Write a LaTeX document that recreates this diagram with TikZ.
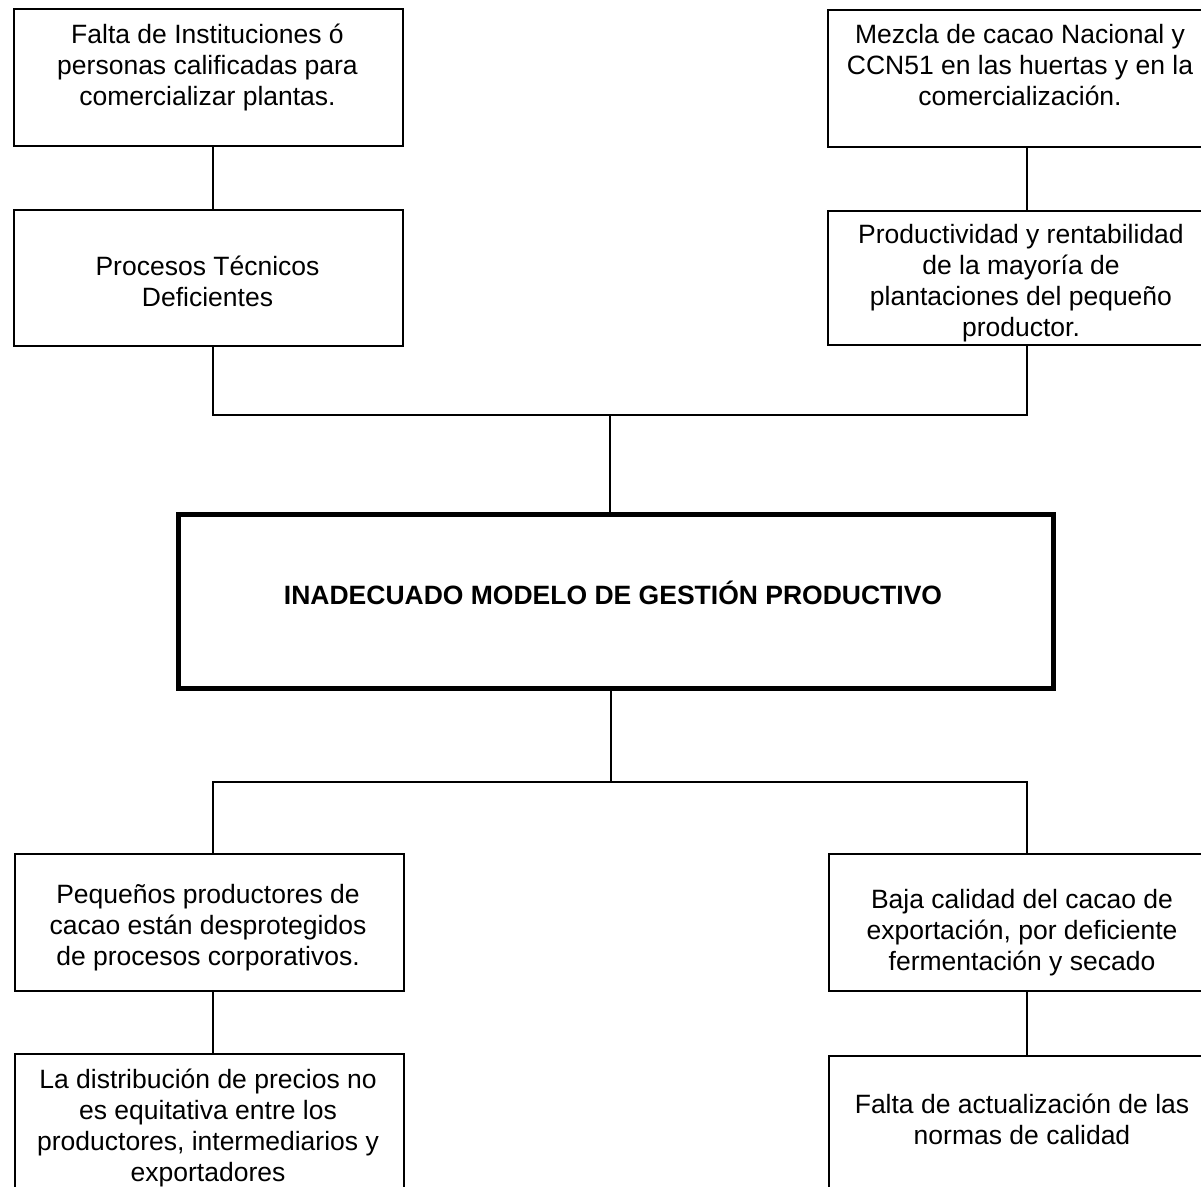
\documentclass[tikz,border=0pt]{standalone}
\usepackage{fontspec}
\setmainfont{Liberation Sans}
\begin{document}
\begin{tikzpicture}[x=1pt,y=-1pt,
  box/.style={draw=black, line width=1.5pt, rectangle, inner sep=0pt, anchor=north west},
  mainbox/.style={draw=black, line width=5pt, rectangle, inner sep=0pt, anchor=north west},
  txt/.style={align=center, inner sep=0pt, anchor=north, font=\fontsize{26.5}{31}\selectfont},
  conn/.style={draw=black, line width=1.5pt}]
\useasboundingbox (0,0) rectangle (1201,1186);
\clip (0,0) rectangle (1201,1186);
% boxes
\node[box, minimum width=389pt, minimum height=137pt] (L1) at (13,8) {};
\node[box, minimum width=399pt, minimum height=137pt] (R1) at (827,9) {};
\node[box, minimum width=389pt, minimum height=136pt] (L2) at (13,209) {};
\node[box, minimum width=399pt, minimum height=134pt] (R2) at (827,210) {};
\node[mainbox, minimum width=875pt, minimum height=174pt] (C) at (176,512) {};
\node[box, minimum width=389pt, minimum height=137pt] (L3) at (14,853) {};
\node[box, minimum width=398pt, minimum height=137pt] (R3) at (828,853) {};
\node[box, minimum width=389pt, minimum height=200pt] (L4) at (14,1053) {};
\node[box, minimum width=398pt, minimum height=200pt] (R4) at (828,1055) {};
% texts
\node[txt] (tL1) at (207.5,21.3) {\strut Falta de Instituciones ó\\personas calificadas para\\comercializar plantas.};
\node[txt] (tR1) at (1020,21.3) {\strut Mezcla de cacao Nacional y\\CCN51 en las huertas y en la\\comercialización.};
\node[txt] (tL2) at (207.5,253.3) {\strut Procesos Técnicos\\Deficientes};
\begin{scope}
\clip (827,210) rectangle (1226,343.5);
\node[txt] (tR2) at (1021,221.3) {\strut Productividad y rentabilidad\\de la mayoría de\\plantaciones del pequeño\\productor.};
\end{scope}
\node[font=\fontsize{26.5}{31}\selectfont\bfseries, inner sep=0pt, anchor=base] (tC) at (613,604) {INADECUADO MODELO DE GESTIÓN PRODUCTIVO};
\node[txt] (tL3) at (208,881.3) {\strut Pequeños productores de\\cacao están desprotegidos\\de procesos corporativos.};
\node[txt] (tR3) at (1022,886.3) {\strut Baja calidad del cacao de\\exportación, por deficiente\\fermentación y secado};
\node[txt] (tL4) at (208,1066.3) {\strut La distribución de precios no\\es equitativa entre los\\productores, intermediarios y\\exportadores};
\node[txt] (tR4) at (1022,1091.3) {\strut Falta de actualización de las\\normas de calidad};
% connector positions
\coordinate (xl) at (213,0);
\coordinate (xr) at (1027,0);
\coordinate (j1) at (610,415);
\coordinate (j2) at (611,782);
% connectors
\draw[conn] (xl |- L1.south) -- (xl |- L2.north);
\draw[conn] (xr |- R1.south) -- (xr |- R2.north);
\draw[conn] (xl |- L2.south) |- (xr |- j1) -- (xr |- R2.south);
\draw[conn] (j1) -- (j1 |- C.north);
\draw[conn] (j2 |- C.south) -- (j2);
\draw[conn] (xl |- L3.north) |- (xr |- j2) -- (xr |- R3.north);
\draw[conn] (xl |- L3.south) -- (xl |- L4.north);
\draw[conn] (xr |- R3.south) -- (xr |- R4.north);
\end{tikzpicture}
\end{document}
